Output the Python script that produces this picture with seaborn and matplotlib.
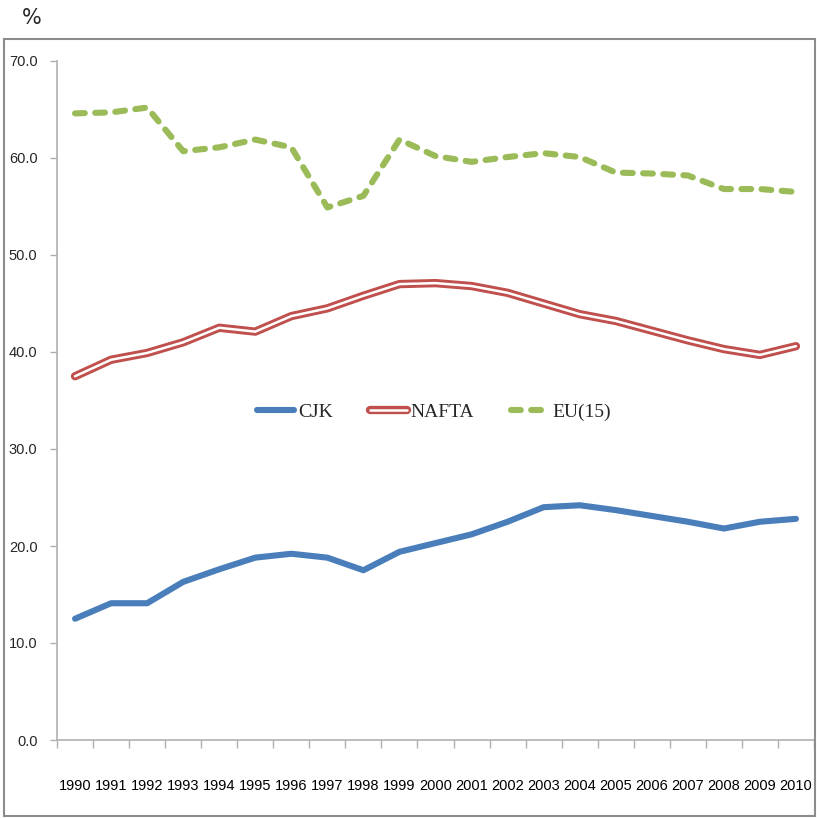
import numpy as np
import pandas as pd
import matplotlib
matplotlib.use("Agg")
import matplotlib.pyplot as plt
import matplotlib.patheffects as pe
from matplotlib.patches import Rectangle
from matplotlib.ticker import FixedLocator
import seaborn as sns

# data
years = list(range(1990, 2011))
cjk = [12.5, 14.1, 14.1, 16.3, 17.6, 18.8, 19.2, 18.8, 17.5, 19.4, 20.3,
       21.2, 22.5, 24.0, 24.2, 23.7, 23.1, 22.5, 21.8, 22.5, 22.8]
nafta = [37.5, 39.2, 39.9, 41.0, 42.5, 42.1, 43.7, 44.5, 45.8, 47.0, 47.1,
         46.8, 46.1, 45.0, 43.9, 43.2, 42.2, 41.2, 40.3, 39.7, 40.6]
eu15 = [64.6, 64.7, 65.2, 60.7, 61.1, 61.9, 61.1, 54.9, 56.1, 61.9, 60.2,
        59.6, 60.1, 60.5, 60.1, 58.5, 58.4, 58.2, 56.8, 56.8, 56.5]
yticks = [0, 10, 20, 30, 40, 50, 60, 70]

df = pd.DataFrame({"Year": years, "CJK": cjk, "NAFTA": nafta, "EU(15)": eu15})

sns.set_style("white")
plt.rcParams['font.family'] = ['Liberation Sans', 'DejaVu Sans']

fig = plt.figure(figsize=(8.17, 8.18), dpi=100)
ax = fig.add_axes([57/817, 1 - 740/818, (814 - 57)/817, (740 - 61)/818])

sns.lineplot(data=df, x="Year", y="CJK", ax=ax, color="#4a7ebb",
             linewidth=4.4, label="CJK", solid_capstyle="round")
sns.lineplot(data=df, x="Year", y="NAFTA", ax=ax, color="white",
             linewidth=1.8, label="NAFTA",
             path_effects=[pe.Stroke(linewidth=6.0, foreground="#c0504d"), pe.Normal()])
sns.lineplot(data=df, x="Year", y="EU(15)", ax=ax, color="#9bbb59",
             linewidth=4.4, label="EU(15)", dashes=(1.6, 1.7),
             dash_capstyle="round")

ax.set_xlim(1989.5, 2010.5)
ax.set_ylim(0, 70)
ax.set_xlabel("")
ax.set_ylabel("")

ax.set_xticks(years)
ax.set_xticklabels([str(y) for y in years])
ax.xaxis.set_minor_locator(FixedLocator(np.arange(1989.5, 2011, 1.0)))
ax.tick_params(axis="x", which="major", length=0, pad=28, labelsize=10.5, colors="black")
ax.tick_params(axis="x", which="minor", length=6, width=1, color="#b0b0b0", direction="out", bottom=True)

ax.set_yticks(yticks)
ax.set_yticklabels([f"{v:.1f}" for v in yticks])
ax.tick_params(axis="y", which="major", length=5, width=1, color="#b0b0b0",
               direction="out", left=True, pad=9, labelsize=10.5)

for s in ["top", "right"]:
    ax.spines[s].set_visible(False)
for s in ["left", "bottom"]:
    ax.spines[s].set_color("#b0b0b0")
    ax.spines[s].set_linewidth(1.2)

leg = ax.legend(loc="center", bbox_to_anchor=(434/817, 1 - 412/818),
                bbox_transform=fig.transFigure, ncol=3, frameon=False,
                handlelength=1.9, handletextpad=0.2, columnspacing=1.9,
                prop={"family": ["Liberation Serif", "DejaVu Serif"], "size": 14})

fig.text(32/817, 1 - 18/818, "%", ha="center", va="center", fontsize=15,
         family=["DejaVu Sans"])

fig.patches.append(Rectangle((4/817, 1 - 816/818), (815 - 4)/817, (816 - 39)/818,
                             transform=fig.transFigure, fill=False,
                             edgecolor="#8c8c8c", linewidth=1.5))

fig.savefig("out.png", dpi=100)
